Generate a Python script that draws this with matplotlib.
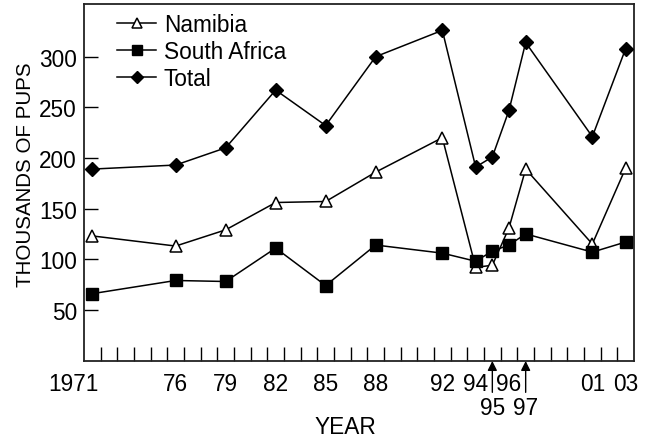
import numpy as np
import matplotlib.pyplot as plt
import matplotlib.transforms as mtransforms

plt.rcParams['font.family'] = ['Liberation Sans', 'DejaVu Sans']

years = [1971, 1976, 1979, 1982, 1985, 1988, 1992, 1994, 1995, 1996, 1997, 2001, 2003]
namibia = [123, 113, 129, 156, 157, 186, 220, 92, 94, 131, 189, 115, 190]
south_africa = [66, 79, 78, 111, 74, 114, 106, 98, 108, 114, 125, 107, 117]
total = [189, 193, 210, 267, 232, 300, 326, 191, 201, 247, 314, 221, 308]

tick_years = [1971, 1976, 1979, 1982, 1985, 1988, 1992, 1994, 1996, 2001, 2003]
tick_labels = ["1971", "76", "79", "82", "85", "88", "92", "94", "96", "01", "03"]
arrow_years = [1995, 1997]
arrow_labels = ["95", "97"]

fs = 16.3
fig = plt.figure(figsize=(6.45, 4.39), dpi=100)
ax = fig.add_axes([84/645, 1-362/439, 550/645, 357.5/439])

ax.plot(years, namibia, "-", color="black", lw=1.1, marker="^", ms=8,
        mfc="white", mec="black", mew=1.1, label="Namibia", zorder=3)
ax.plot(years, south_africa, "-", color="black", lw=1.1, marker="s", ms=8.5,
        mfc="black", mec="black", label="South Africa", zorder=3)
ax.plot(years, total, "-", color="black", lw=1.1, marker="D", ms=7.2,
        mfc="black", mec="black", label="Total", zorder=3)

ax.set_xlim(1970.5, 2003.5)
ax.set_ylim(-0.5, 352.5)

# year labels without marks, small marks between years
ax.set_xticks(tick_years)
ax.set_xticklabels(tick_labels)
ax.tick_params(axis="x", which="major", length=0, pad=8, labelsize=fs)
ax.set_xticks(np.arange(1971.5, 2003, 1.0), minor=True)
ax.tick_params(axis="x", which="minor", direction="in", length=10, width=1)
lab0 = ax.get_xticklabels()[0]
lab0.set_horizontalalignment("right")
lab0.set_transform(lab0.get_transform() +
                   mtransforms.ScaledTranslation(6/100, 0, fig.dpi_scale_trans))

ax.set_yticks([50, 100, 150, 200, 250, 300])
ax.tick_params(axis="y", direction="in", length=10, width=1, pad=5, labelsize=fs)

for s in ax.spines.values():
    s.set_linewidth(1.3)
    s.set_color("#222222")

for yr, lb in zip(arrow_years, arrow_labels):
    ax.annotate(lb, xy=(yr, 0), xycoords=("data", "axes fraction"),
                xytext=(0, -47*72/100), textcoords="offset points",
                ha="center", va="center", fontsize=fs,
                arrowprops=dict(arrowstyle="-|>", color="black", lw=1,
                                shrinkA=1, shrinkB=0, mutation_scale=14))

fig.text(26/645, 1-175/439, "THOUSANDS OF PUPS", rotation=90,
         ha="center", va="center", fontsize=14.8)
fig.text(345/645, 1-428/439, "YEAR", ha="center", va="center", fontsize=fs)

ax.legend(loc="upper left", bbox_to_anchor=(22/550, 1+2/357.5), frameon=False,
          fontsize=fs, borderpad=0, labelspacing=0.18, handlelength=1.7,
          handletextpad=0.35, markerscale=0.85)

fig.savefig("out.png", dpi=100)
